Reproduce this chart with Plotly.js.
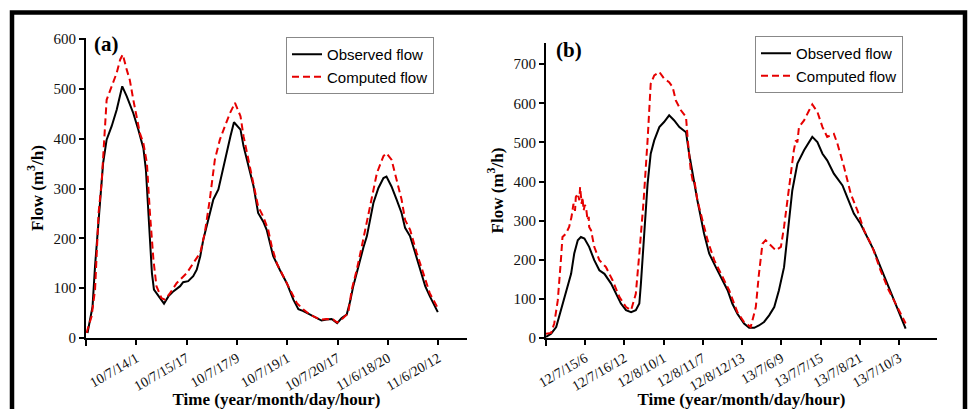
<!DOCTYPE html>
<html>
<head>
<meta charset="utf-8">
<script src="https://cdn.plot.ly/plotly-3.0.1.min.js"></script>
<style>html,body{margin:0;padding:0;background:#fff;}#chart{width:968px;height:409px;}</style>
</head>
<body>
<div id="chart"></div>
<script>
// ---------- Panel (a) ----------
const tickLabelsA = ["10/7/14/1", "10/7/15/17", "10/7/17/9", "10/7/19/1", "10/7/20/17", "11/6/18/20", "11/6/20/12"];
const tickPosA = [1, 2, 3, 4, 5, 6, 7];

const obsTimeA = [0.03,0.13,0.18,0.23,0.28,0.34,0.41,0.51,0.61,0.72,0.81,0.94,1.04,1.14,1.19,1.24,1.31,1.35,1.44,1.55,1.64,1.74,1.87,1.93,2.03,2.13,2.20,2.27,2.33,2.40,2.53,2.63,2.70,2.80,2.87,2.94,3.01,3.07,3.13,3.23,3.33,3.42,3.52,3.59,3.72,3.85,3.99,4.12,4.22,4.32,4.45,4.58,4.68,4.78,4.88,4.99,5.08,5.18,5.25,5.31,5.41,5.51,5.58,5.64,5.71,5.81,5.91,5.97,6.07,6.17,6.27,6.34,6.44,6.54,6.64,6.74,6.83,6.99];
const obsFlowA = [10,63,145,210,278,351,398,425,458,505,485,451,418,381,338,244,130,97,84,69,84,94,104,112,114,124,137,164,197,224,278,298,331,371,405,433,426,418,385,344,304,251,234,217,164,137,110,77,58,54,47,40,35,37,38,30,40,47,74,104,144,181,204,237,271,301,321,324,304,278,251,221,204,171,137,104,84,52];

const compTimeA = [0.01,0.11,0.18,0.21,0.25,0.31,0.34,0.38,0.41,0.51,0.61,0.68,0.73,0.81,0.87,0.94,1.01,1.07,1.14,1.21,1.27,1.34,1.40,1.50,1.57,1.67,1.80,2.00,2.13,2.27,2.36,2.46,2.56,2.66,2.76,2.86,2.96,3.03,3.07,3.13,3.23,3.33,3.42,3.52,3.62,3.69,3.79,3.92,4.05,4.19,4.32,4.45,4.65,4.78,4.91,4.99,5.11,5.21,5.28,5.38,5.48,5.58,5.68,5.78,5.91,5.97,6.07,6.17,6.27,6.34,6.44,6.57,6.70,6.83,6.99];
const compFlowA = [10,43,97,157,251,311,358,425,478,505,532,559,569,538,518,478,445,411,391,351,251,157,104,80,77,90,110,130,150,171,211,278,358,398,425,451,472,455,445,405,358,304,264,244,217,184,150,124,97,70,57,47,37,38,37,31,40,50,97,137,184,231,278,331,365,371,358,318,278,237,217,171,130,90,60];

// ---------- Panel (b) ----------
const tickLabelsB = ["12/7/15/6", "12/7/16/12", "12/8/10/1", "12/8/11/7", "12/8/12/13", "13/7/6/9", "13/7/7/15", "13/7/8/21", "13/7/10/3"];
const tickPosB = [1, 2, 3, 4, 5, 6, 7, 8, 9];

const obsTimeB = [0,0.13,0.26,0.38,0.51,0.64,0.72,0.81,0.89,0.98,1.10,1.23,1.36,1.49,1.66,1.78,1.91,2.04,2.17,2.29,2.38,2.42,2.50,2.59,2.67,2.76,2.89,3.01,3.14,3.27,3.40,3.57,3.65,3.74,3.86,4.03,4.16,4.33,4.50,4.63,4.75,4.88,5.05,5.18,5.31,5.43,5.56,5.69,5.82,5.94,6.07,6.15,6.28,6.41,6.58,6.79,6.92,7.05,7.17,7.34,7.56,7.68,7.85,8.02,8.19,8.36,8.53,8.70,8.87,9.17];
const obsFlowB = [3,11,28,71,113,164,216,250,258,254,233,199,173,164,139,113,88,71,66,71,88,139,267,394,471,505,539,552,569,556,539,526,471,420,352,267,216,181,147,122,88,62,37,26,26,32,41,58,79,122,181,250,377,446,480,514,501,471,454,420,390,360,318,292,258,224,181,139,96,24];

const compTimeB = [0,0.13,0.21,0.30,0.38,0.42,0.51,0.59,0.65,0.70,0.74,0.76,0.81,0.85,0.87,0.91,0.93,0.96,0.99,1.02,1.06,1.09,1.10,1.15,1.23,1.36,1.53,1.70,1.87,2.04,2.17,2.29,2.38,2.49,2.59,2.67,2.76,2.89,3.01,3.14,3.23,3.31,3.44,3.57,3.62,3.65,3.68,3.69,3.74,3.78,3.86,3.99,4.12,4.29,4.46,4.67,4.88,5.05,5.22,5.35,5.43,5.52,5.60,5.73,5.86,5.99,6.07,6.20,6.28,6.32,6.37,6.41,6.45,6.58,6.71,6.79,6.92,7.05,7.17,7.34,7.43,7.60,7.77,7.94,8.11,8.32,8.53,8.74,8.96,9.17];
const compFlowB = [11,13,37,96,199,258,267,284,309,343,325,360,369,352,386,343,360,326,340,335,301,310,284,275,233,199,181,147,105,79,71,113,216,352,505,650,671,680,663,654,641,607,582,565,500,463,440,430,403,405,352,301,250,199,164,122,66,41,28,79,164,241,250,237,224,233,284,386,454,480,505,500,539,556,582,597,578,539,514,522,497,437,369,326,275,233,173,122,79,37];

const legendNames = ["Observed flow", "Computed flow"];
const panelLabels = ["(a)", "(b)"];
const yTitle = "Flow (m<sup>3</sup>/h)";
const xTitle = "Time (year/month/day/hour)";

const W = 968, H = 409;
const px = v => v / W;
const py = v => 1 - v / H;

const serif = "Liberation Serif, Times New Roman, serif";
const sans = "Liberation Sans, Arial, sans-serif";
const RED = "#e60000";

const traces = [
  {x: obsTimeA, y: obsFlowA, name: legendNames[0], mode: "lines", line: {color: "#000", width: 2}, xaxis: "x", yaxis: "y", legend: "legend"},
  {x: compTimeA, y: compFlowA, name: legendNames[1], mode: "lines", line: {color: RED, width: 2, dash: "7px,4px"}, xaxis: "x", yaxis: "y", legend: "legend"},
  {x: obsTimeB, y: obsFlowB, name: legendNames[0], mode: "lines", line: {color: "#000", width: 2}, xaxis: "x2", yaxis: "y2", legend: "legend2"},
  {x: compTimeB, y: compFlowB, name: legendNames[1], mode: "lines", line: {color: RED, width: 2, dash: "7px,4px"}, xaxis: "x2", yaxis: "y2", legend: "legend2"}
];

const axisCommon = {
  showline: true, linecolor: "#000", linewidth: 2,
  ticks: "outside", ticklen: 5, tickwidth: 2, tickcolor: "#000",
  showgrid: false, zeroline: false, mirror: false,
  tickfont: {family: serif, size: 15, color: "#111"}
};

const minorOrigin = {tickmode: "array", tickvals: [0], ticks: "outside", ticklen: 6, tickwidth: 2, tickcolor: "#000", showgrid: false};

const legendCommon = {
  bgcolor: "#fff", bordercolor: "#888", borderwidth: 1,
  font: {family: sans, size: 15, color: "#000"},
  xanchor: "left", yanchor: "top", tracegroupgap: 0
};

const layout = {
  width: W, height: H,
  margin: {l: 0, r: 0, t: 0, b: 0},
  paper_bgcolor: "#fff", plot_bgcolor: "#fff",
  showlegend: true,
  xaxis: Object.assign({}, axisCommon, {
    domain: [px(86), px(467)], range: [0, 7.57], anchor: "y",
    tickmode: "array", tickvals: tickPosA, ticktext: tickLabelsA, tickangle: -30,
    tickfont: {family: serif, size: 14, color: "#111"},
    minor: minorOrigin,
    title: {text: "<b>" + xTitle + "</b>", font: {family: serif, size: 17, color: "#000"}, standoff: 0}
  }),
  yaxis: Object.assign({}, axisCommon, {
    domain: [py(338), py(38)], range: [0, 602], anchor: "x",
    tickmode: "array", tickvals: [0,100,200,300,400,500,600],
    title: {text: "<b>" + yTitle + "</b>", font: {family: serif, size: 17, color: "#000"}, standoff: 6}
  }),
  xaxis2: Object.assign({}, axisCommon, {
    domain: [px(546), px(937)], range: [0, 9.97], anchor: "y2",
    tickmode: "array", tickvals: tickPosB, ticktext: tickLabelsB, tickangle: -30,
    tickfont: {family: serif, size: 14, color: "#111"},
    minor: minorOrigin,
    title: {text: "<b>" + xTitle + "</b>", font: {family: serif, size: 17, color: "#000"}, standoff: 0}
  }),
  yaxis2: Object.assign({}, axisCommon, {
    domain: [py(338), py(43)], range: [0, 754], anchor: "x2",
    tickmode: "array", tickvals: [0,100,200,300,400,500,600,700],
    title: {text: "<b>" + yTitle + "</b>", font: {family: serif, size: 17, color: "#000"}, standoff: 6}
  }),
  legend: Object.assign({}, legendCommon, {x: px(286), y: py(37)}),
  legend2: Object.assign({}, legendCommon, {x: px(755), y: py(36)}),
  annotations: [
    {text: "<b>" + panelLabels[0] + "</b>", xref: "paper", yref: "paper", x: px(92), y: py(44), xanchor: "left", yanchor: "middle", showarrow: false, font: {family: serif, size: 21, color: "#000"}},
    {text: "<b>" + panelLabels[1] + "</b>", xref: "paper", yref: "paper", x: px(554), y: py(50), xanchor: "left", yanchor: "middle", showarrow: false, font: {family: serif, size: 21, color: "#000"}}
  ],
  shapes: [
    {type: "rect", xref: "paper", yref: "paper", x0: px(12), x1: px(965), y0: -0.1, y1: py(12.5), line: {color: "#000", width: 4.5}, fillcolor: "rgba(0,0,0,0)"}
  ]
};

Plotly.newPlot("chart", traces, layout, {staticPlot: true, displayModeBar: false});
</script>
</body>
</html>
